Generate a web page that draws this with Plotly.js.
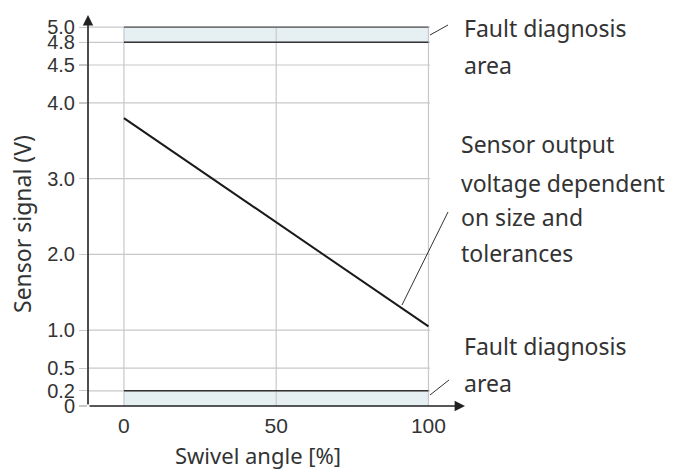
<!DOCTYPE html>
<html><head><meta charset="utf-8">
<script src="https://cdn.plot.ly/plotly-3.0.1.min.js"></script>
<style>body{margin:0;background:#fff}#c{width:679px;height:473px}</style>
</head><body><div id="c"></div>
<script>
// Data
const swivel = [0, 100];
const signal = [3.8, 1.05];
const yTicks = [0, 0.2, 0.5, 1.0, 2.0, 3.0, 4.0, 4.5, 4.8, 5.0];
const yTickLabels = ['0', '0.2', '0.5', '1.0', '2.0', '3.0', '4.0', '4.5', '4.8', '5.0'];
const xTicks = [0, 50, 100];
const xTickLabels = ['0', '50', '100'];
const faultTop = [4.8, 5.0];
const faultBottom = [0, 0.2];
const xTitle = 'Swivel angle [%]';
const yTitle = 'Sensor signal (V)';

const FONT = 'Noto Sans, sans-serif';
const TICKFONT = 'Liberation Sans, Arial, sans-serif';
const TXT = '#333';
const GRID = '#c8c8cc';
const X0 = -11.8, X1 = 112, Y0 = 0, Y1 = 5.16;
const L = 88, R = 214, T = 15, B = 67;
const PW = 679 - L - R, PH = 473 - T - B;
const px = v => (v - L) / PW;          // pixel x -> paper
const py = v => (473 - B - v) / PH;    // pixel y -> paper

const shapes = [];
[faultTop, faultBottom].forEach(r => {
  shapes.push({type:'rect', xref:'x', yref:'y', x0:0, x1:100, y0:r[0], y1:r[1],
    fillcolor:'#e6eff2', line:{width:0}, layer:'below'});
});
yTicks.forEach(v => {
  if (v === 0) return;
  shapes.push({type:'line', xref:'x', yref:'y', x0:X0, x1:100.5, y0:v, y1:v,
    line:{color:GRID, width:1.2}, layer:'below'});
});
xTicks.forEach(v => {
  shapes.push({type:'line', xref:'x', yref:'y', x0:v, x1:v, y0:0, y1:5.0,
    line:{color:GRID, width:1.2}, layer:'below'});
});
shapes.push({type:'line', xref:'x', yref:'y', x0:0, x1:100, y0:faultTop[0], y1:faultTop[0], line:{color:'#333', width:1.5}});
shapes.push({type:'line', xref:'x', yref:'y', x0:0, x1:100, y0:faultTop[1], y1:faultTop[1], line:{color:'#555', width:1.2}});
shapes.push({type:'line', xref:'x', yref:'y', x0:0, x1:100, y0:faultBottom[1], y1:faultBottom[1], line:{color:'#333', width:1.5}});
const leaders = [[430,35,448,25],[402,305,448,212],[430,395,449,380]];
leaders.forEach(l => shapes.push({type:'line', xref:'paper', yref:'paper',
  x0:px(l[0]), y0:py(l[1]), x1:px(l[2]), y1:py(l[3]), line:{color:'#333', width:1}}));

const annotations = [];
annotations.push({x:X1, y:0, ax:X0, ay:0, xref:'x', yref:'y', axref:'x', ayref:'y',
  showarrow:true, arrowhead:2, arrowsize:1.3, arrowwidth:1.6, arrowcolor:'#222', text:''});
annotations.push({x:X0, y:Y1, ax:X0, ay:0, xref:'x', yref:'y', axref:'x', ayref:'y',
  showarrow:true, arrowhead:2, arrowsize:1.3, arrowwidth:1.6, arrowcolor:'#222', text:''});
const lines = [
  ['Fault diagnosis', 462, 28], ['area', 462, 65],
  ['Sensor output', 459, 144], ['voltage dependent', 459, 183],
  ['on size and', 459, 217], ['tolerances', 459, 253],
  ['Fault diagnosis', 462, 346], ['area', 462, 383]
];
lines.forEach(t => annotations.push({text:t[0], xref:'paper', yref:'paper',
  x:px(t[1]), y:py(t[2]), xanchor:'left', yanchor:'middle', showarrow:false,
  font:{family:FONT, size:23, color:TXT}}));
annotations.push({text:xTitle, xref:'paper', yref:'paper', x:px(258), y:py(455),
  xanchor:'center', yanchor:'middle', showarrow:false, font:{family:FONT, size:22, color:TXT}});
annotations.push({text:yTitle, xref:'paper', yref:'paper', x:px(22), y:py(224),
  xanchor:'center', yanchor:'middle', textangle:-90, showarrow:false, font:{family:FONT, size:23, color:TXT}});

const data = [{x:swivel, y:signal, type:'scatter', mode:'lines',
  line:{color:'#1a1a1a', width:2}, hoverinfo:'skip'}];

const layout = {
  width:679, height:473, margin:{l:L, r:R, t:T, b:B},
  paper_bgcolor:'#fff', plot_bgcolor:'rgba(0,0,0,0)', showlegend:false,
  font:{family:FONT, color:TXT},
  xaxis:{range:[X0, X1], showgrid:false, zeroline:false, showline:false,
    tickmode:'array', tickvals:xTicks, ticktext:xTickLabels, ticks:'', ticklabelstandoff:5,
    tickfont:{family:TICKFONT, size:21, color:TXT}},
  yaxis:{range:[Y0, Y1], showgrid:false, zeroline:false, showline:false,
    tickmode:'array', tickvals:yTicks, ticktext:yTickLabels, ticks:'outside', ticklen:8,
    tickcolor:GRID, tickwidth:1.2,
    tickfont:{family:TICKFONT, size:20, color:TXT}},
  shapes:shapes, annotations:annotations
};
Plotly.newPlot('c', data, layout, {staticPlot:true});
</script></body></html>
